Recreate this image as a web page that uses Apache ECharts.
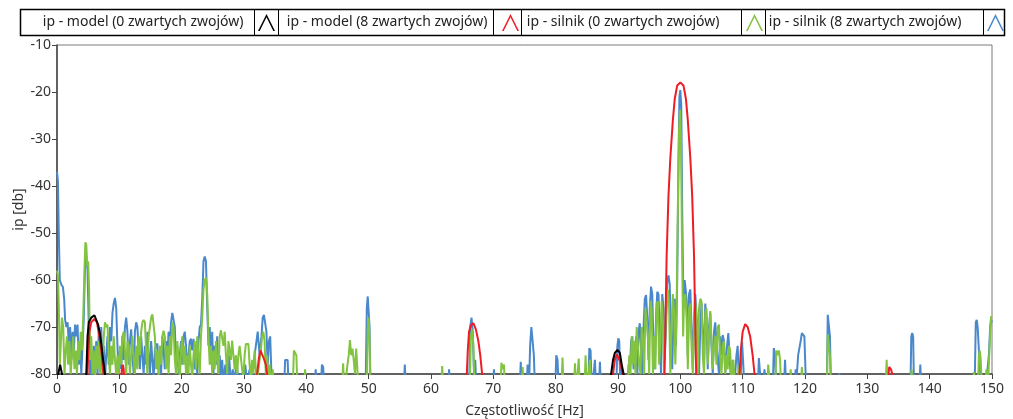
<!DOCTYPE html>
<html>
<head>
<meta charset="utf-8">
<script src="https://cdn.jsdelivr.net/npm/echarts@6/dist/echarts.min.js"></script>
<style>
html,body{margin:0;padding:0;background:#fff;}
#chart{width:1013px;height:419px;}
</style>
</head>
<body>
<div id="chart"></div>
<script>
var seriesNames = ['ip - model (0 zwartych zwojów)', 'ip - model (8 zwartych zwojów)', 'ip - silnik (0 zwartych zwojów)', 'ip - silnik (8 zwartych zwojów)'];
var xTicks = [0, 10, 20, 30, 40, 50, 60, 70, 80, 90, 100, 110, 120, 130, 140, 150];
var yTicks = [-80, -70, -60, -50, -40, -30, -20, -10];

var model0 = [[0,-84],[0.2,-80],[0.5,-78],[0.8,-80],[1.0,-84],[4.6,-84],[4.75,-78],[4.9,-72],[5.1,-69],[5.5,-68],[6.0,-67.5],[6.3,-67.8],[6.6,-69.5],[6.9,-71.5],[7.1,-73.5],[7.4,-77],[7.7,-80],[7.9,-84],
[88.6,-84],[88.9,-80],[89.2,-77],[89.5,-75.5],[89.9,-74.9],[90.3,-75.5],[90.6,-78],[90.9,-80],[91.1,-84],[150,-84]];

var model8 = [[0,-84],[4.8,-84],[5.0,-76],[5.2,-71],[5.5,-69],[6.0,-68.3],[6.4,-69],[6.8,-72],[7.1,-75],[7.4,-79],[7.6,-84],
[10.2,-84],[10.4,-79],[10.55,-78],[10.7,-79],[10.9,-84],
[31.9,-84],[32.1,-80],[32.4,-76.5],[32.65,-75],[32.9,-75.8],[33.2,-76.8],[33.5,-78],[33.7,-80],[33.9,-84],
[65.6,-84],[65.75,-80],[65.9,-75],[66.1,-71],[66.4,-69.6],[66.8,-69.2],[67.2,-70.5],[67.6,-73],[67.9,-76],[68.2,-80],[68.4,-84],
[89.0,-84],[89.2,-80],[89.5,-77],[89.8,-75.8],[90.1,-76],[90.4,-77.5],[90.7,-80],[90.9,-84],
[97.4,-84],[97.6,-70],[97.8,-55],[98.1,-42],[98.4,-34],[98.8,-26],[99.1,-21.5],[99.5,-18.6],[100,-18],[100.5,-18.6],[100.9,-21.5],[101.2,-26],[101.6,-34],[101.9,-42],[102.2,-55],[102.4,-70],[102.6,-84],
[109.3,-84],[109.5,-80],[109.7,-75],[110.0,-71],[110.4,-69.4],[110.8,-70],[111.2,-72],[111.6,-76],[111.9,-80],[112.1,-84],
[133.2,-84],[133.5,-78.5],[133.8,-79],[134.1,-80.5],[134.3,-84],[150,-84]];

var silnik0 = [[0,-58],[0.15,-59],[0.3,-66],[0.45,-78],[0.6,-74],[0.8,-68],[1.0,-70],[1.2,-80],[1.4,-75],[1.6,-72],[1.8,-78],[2.0,-73],[2.2,-80],[2.4,-76],[2.6,-72],[2.8,-79],[3.0,-75],[3.2,-80],[3.4,-73],[3.6,-77],[3.8,-71],[4.0,-75],[4.2,-68],[4.4,-58],[4.55,-52],[4.7,-52.5],[4.85,-57],[5.0,-56],[5.15,-62],[5.3,-77],[5.5,-72],[5.7,-80],[5.9,-75],[6.1,-81],[6.3,-74],[6.5,-79],[6.7,-73],[6.9,-80],[7.1,-75],[7.3,-80],[7.5,-72],[7.7,-69],[7.9,-70],[8.1,-69.5],[8.3,-76],[8.5,-80],[8.7,-74],[8.9,-78],[9.1,-72],[9.3,-77],[9.5,-80],[9.7,-76],[9.9,-80],
[10.1,-74],[10.3,-78],[10.5,-72],[10.7,-71],[10.9,-75],[11.1,-80],[11.3,-73],[11.5,-74],[11.7,-80],[11.9,-76],[12.1,-72],[12.3,-77],[12.5,-80],[12.7,-74],[12.9,-79],[13.1,-72],[13.3,-76],[13.5,-71],[13.7,-69],[13.9,-68.5],[14.1,-69],[14.3,-75],[14.5,-80],[14.7,-72],[14.9,-70],[15.1,-68],[15.3,-67.3],[15.5,-67.5],[15.7,-72],[15.9,-79],[16.1,-75],[16.3,-81],[16.5,-74],[16.7,-78],[16.9,-72],[17.1,-70.8],[17.3,-72],[17.5,-79],[17.7,-74],[17.9,-80],[18.1,-72],[18.3,-76],[18.5,-69],[18.7,-70],[18.9,-77],[19.1,-80],[19.3,-73],[19.5,-77],[19.7,-81],[19.9,-75],
[20.1,-72],[20.3,-78],[20.5,-74],[20.7,-80],[20.9,-76],[21.1,-80],[21.3,-74],[21.5,-78],[21.7,-81],[21.9,-76],[22.1,-73],[22.3,-79],[22.5,-72],[22.7,-76],[22.9,-80],[23.1,-72],[23.3,-68],[23.5,-62],[23.7,-60],[23.9,-59.5],[24.1,-63],[24.3,-72],[24.5,-78],[24.7,-74],[24.9,-80],[25.1,-75],[25.3,-79],[25.5,-73],[25.7,-77],[25.9,-80],[26.1,-72],[26.3,-70.7],[26.5,-71],[26.7,-74],[26.9,-71],[27.1,-76],[27.3,-80],[27.5,-73],[27.7,-72.9],[27.9,-77],[28.1,-72.9],[28.3,-73],[28.5,-79],[28.7,-76],[28.9,-80],[29.1,-76],[29.3,-74],[29.5,-74],[29.7,-79],[29.9,-81],
[30.1,-76],[30.3,-73.6],[30.5,-74],[30.7,-73.6],[30.9,-78],[31.1,-81],[31.3,-77],[31.5,-80],[31.7,-75],[31.9,-79],[32.1,-82],[32.4,-78],[32.7,-75],[32.9,-72],[33.1,-71],[33.3,-73],[33.5,-80],[33.7,-76],[33.9,-81],[34.1,-78],[34.3,-82],[34.6,-79],[34.9,-84],
[37.8,-84],[38.0,-75],[38.2,-74.9],[38.4,-76],[38.6,-84],[39.6,-84],[39.8,-79],[40.0,-84],
[45.7,-84],[45.9,-77.7],[46.1,-84],[46.4,-84],[46.6,-78],[46.8,-76],[47.0,-72.8],[47.2,-76],[47.4,-74.6],[47.6,-77],[47.8,-80],[48.0,-74.6],[48.2,-75],[48.4,-84],
[49.7,-84],[49.85,-70],[50.0,-68],[50.15,-73],[50.3,-84],[61.6,-84],[61.8,-78.3],[62.0,-84],
[66.2,-84],[66.4,-72],[66.6,-70.5],[66.8,-74],[67.0,-84],[71.1,-84],[71.3,-77.6],[71.5,-79],[71.7,-78],[71.9,-84],[74.5,-84],[74.7,-78.5],[74.9,-84],
[80.9,-84],[81.1,-76.5],[81.3,-84],[82.9,-84],[83.1,-77.7],[83.3,-84],[83.5,-84],[83.7,-76.7],[83.9,-84],[84.6,-84],[84.8,-76],[85.0,-84],[85.3,-84],[85.5,-77],[85.7,-84],
[91.6,-84],[91.8,-76],[92.0,-80],[92.2,-72],[92.4,-78],[92.6,-73],[92.8,-80],[93.0,-70],[93.2,-70],[93.4,-78],[93.6,-80],[93.8,-70],[94.0,-72],[94.2,-80],[94.4,-66],[94.6,-66],[94.8,-72],[95.0,-80],[95.2,-64.5],[95.4,-66],[95.6,-80],[95.8,-72],[96.0,-79],[96.2,-65],[96.4,-64.5],[96.6,-78],[96.8,-73],[97.0,-64.5],[97.2,-69],[97.4,-80],[97.6,-72],[97.8,-63],[98.0,-62],[98.2,-66],[98.4,-80],[98.6,-70],[98.8,-63],[99.0,-67],[99.2,-78],[99.4,-66],[99.6,-45],[99.8,-28],[99.95,-23.8],[100.1,-30],[100.25,-50],[100.45,-72],[100.6,-64],[100.8,-63],[101.0,-68],[101.2,-79],[101.4,-66],[101.6,-65],[101.8,-74],[102.0,-80],[102.2,-70],[102.4,-64.5],[102.6,-69],[102.8,-80],[103.0,-66],[103.2,-64],[103.4,-64.5],[103.6,-76],[103.8,-80],[104.0,-67],[104.2,-66],[104.4,-78],[104.6,-72],[104.8,-66.6],[105.0,-67],[105.2,-79],[105.4,-74],[105.6,-72],[105.8,-78],[106.0,-70],[106.2,-69.5],[106.4,-77],[106.6,-80],[106.8,-74],[107.0,-73],[107.2,-80],[107.4,-76],[107.6,-79],[107.8,-74],[108.0,-75],[108.2,-82],[108.5,-77],[108.8,-84],[109.2,-82],[109.5,-78],[109.8,-84],
[113.9,-84],[114.1,-78],[114.3,-78],[114.5,-84],[115.2,-84],[115.4,-75],[115.6,-76],[115.8,-75],[116.0,-77],[116.2,-84],[117.5,-84],[117.7,-79],[117.9,-84],[119.3,-84],[119.5,-78.5],[119.7,-84],
[123.5,-84],[123.65,-71.7],[123.85,-71.7],[124.0,-76],[124.2,-84],[132.9,-84],[133.1,-77],[133.3,-84],[136.9,-84],[137.1,-79],[137.3,-84],
[146.9,-84],[147.1,-79.6],[147.3,-84],[147.7,-84],[147.9,-76],[148.05,-75],[148.2,-77],[148.4,-84],[148.9,-84],[149.1,-79],[149.3,-84],[149.6,-84],[149.75,-70],[149.85,-67.7],[150,-68]];

var silnik8 = [[0,-37],[0.15,-39],[0.3,-51],[0.45,-60],[0.7,-61],[0.95,-61.5],[1.15,-64],[1.3,-68.5],[1.5,-70],[1.7,-69],[1.9,-74],[2.1,-70],[2.3,-77],[2.5,-71],[2.7,-75],[2.9,-69.5],[3.1,-72],[3.3,-69.5],[3.5,-78],[3.7,-73],[3.9,-80],[4.1,-74],[4.3,-68],[4.5,-57],[4.7,-55],[4.9,-58],[5.1,-70],[5.3,-80],[5.5,-76],[5.7,-81],[5.9,-74],[6.1,-78],[6.3,-73],[6.5,-80],[6.7,-71],[6.9,-76],[7.1,-70],[7.3,-79],[7.5,-74],[7.7,-81],[7.9,-76],[8.1,-72],[8.3,-78],[8.5,-70],[8.7,-73],[8.9,-67],[9.1,-65],[9.3,-63.8],[9.5,-66],[9.7,-74],[9.9,-80],
[10.1,-75],[10.3,-79],[10.5,-72],[10.7,-77],[10.9,-70],[11.1,-68],[11.3,-71],[11.5,-78],[11.7,-73],[11.9,-70.5],[12.1,-76],[12.3,-80],[12.5,-71],[12.7,-69],[12.9,-70],[13.1,-75],[13.3,-79],[13.5,-72],[13.7,-76],[13.9,-80],[14.1,-74],[14.3,-78],[14.5,-71],[14.7,-76],[14.9,-80],[15.1,-73],[15.3,-77],[15.5,-81],[15.7,-75],[15.9,-74],[16.1,-73.5],[16.3,-79],[16.5,-76],[16.7,-80],[16.9,-72],[17.1,-75],[17.3,-79],[17.5,-73],[17.7,-77],[17.9,-71],[18.1,-74],[18.3,-69],[18.5,-67],[18.7,-66.8],[18.9,-70],[19.1,-78],[19.3,-74],[19.5,-80],[19.7,-76],[19.9,-73],
[20.1,-78],[20.3,-72],[20.5,-71],[20.7,-74],[20.9,-80],[21.1,-76],[21.3,-73],[21.5,-72.5],[21.7,-75],[21.9,-72.5],[22.1,-79],[22.3,-76],[22.5,-80],[22.7,-73],[22.9,-70],[23.1,-69.5],[23.3,-64],[23.5,-56],[23.7,-55],[23.9,-56],[24.1,-66],[24.3,-74],[24.5,-70],[24.7,-76],[24.9,-71],[25.1,-80],[25.3,-74],[25.5,-78],[25.7,-72],[25.9,-80],[26.1,-76],[26.3,-81],[26.5,-77],[26.7,-82],[27.0,-78],[27.3,-82],[27.6,-76],[27.9,-82],[28.2,-79],[28.5,-82],[28.8,-77],[29.1,-82],[29.5,-80],[29.8,-82],
[30.2,-78],[30.5,-82],[30.9,-79],[31.2,-82],[31.6,-77],[31.9,-74],[32.2,-71],[32.5,-76],[32.8,-72],[33.0,-68],[33.2,-67.4],[33.4,-67.8],[33.6,-71],[33.8,-78],[34.0,-73],[34.2,-72],[34.4,-80],[34.6,-84],
[36.4,-84],[36.6,-77],[36.8,-76.6],[37.0,-77],[37.2,-84],[41.3,-84],[41.5,-79],[41.7,-84],[42.3,-84],[42.5,-78],[42.7,-78.5],[42.9,-84],
[49.5,-84],[49.7,-66],[49.85,-63.5],[50.0,-63.5],[50.15,-70],[50.3,-84],[55.6,-84],[55.8,-78],[56.0,-84],[62.7,-84],[62.9,-79],[63.1,-84],
[66.1,-84],[66.3,-70],[66.5,-68],[66.7,-71],[66.9,-80],[67.1,-77],[67.3,-84],[69.9,-84],[70.1,-79],[70.3,-84],
[74.2,-84],[74.4,-77.4],[74.6,-84],[75.3,-84],[75.5,-78],[75.7,-84],[75.9,-74],[76.1,-70],[76.3,-70],[76.5,-76],[76.7,-84],
[79.9,-84],[80.1,-76],[80.3,-77],[80.5,-84],[85.2,-84],[85.4,-74.5],[85.6,-75],[85.8,-84],[86.1,-84],[86.3,-77],[86.5,-84],[86.9,-84],[87.1,-77.4],[87.3,-84],
[89.7,-84],[89.9,-74],[90.05,-72.4],[90.2,-73],[90.4,-84],
[91.5,-84],[91.7,-78],[91.9,-80],[92.1,-73],[92.3,-72],[92.5,-79],[92.7,-76],[92.9,-72],[93.1,-80],[93.3,-71],[93.5,-69.2],[93.7,-75],[93.9,-80],[94.1,-70],[94.3,-64],[94.5,-63.2],[94.7,-68],[94.9,-77],[95.1,-66],[95.3,-61.4],[95.5,-63],[95.7,-74],[95.9,-79],[96.1,-68],[96.3,-62.5],[96.5,-63],[96.7,-72],[96.9,-80],[97.1,-63],[97.3,-66],[97.5,-77],[97.7,-70],[97.9,-60.4],[98.1,-59],[98.3,-61],[98.5,-72],[98.7,-79],[98.9,-68],[99.1,-64],[99.3,-74],[99.5,-60],[99.7,-35],[99.85,-21],[100.0,-19.6],[100.15,-23],[100.3,-45],[100.5,-66],[100.7,-60],[100.85,-59.6],[101.0,-64],[101.2,-76],[101.4,-63],[101.6,-62],[101.8,-70],[102.0,-79],[102.2,-68],[102.4,-63],[102.6,-63.2],[102.8,-72],[103.0,-80],[103.2,-70],[103.4,-65],[103.6,-71],[103.8,-78],[104.0,-65],[104.2,-68],[104.4,-79],[104.6,-70],[104.8,-67],[105.0,-74],[105.2,-80],[105.4,-71],[105.6,-69],[105.8,-69],[106.0,-77],[106.2,-80],[106.4,-72],[106.6,-76],[106.8,-71.7],[107.0,-73],[107.2,-80],[107.5,-74],[107.7,-71.3],[107.9,-76],[108.1,-81],[108.4,-77],[108.7,-82],[109.0,-76],[109.2,-74],[109.4,-82],[109.7,-80],[109.9,-73.1],[110.1,-78],[110.3,-84],
[112.4,-84],[112.6,-76.6],[112.8,-80],[113.1,-84],[113.5,-79],[113.8,-84],[114.8,-84],[115.0,-74.5],[115.2,-76],[115.4,-84],[116.6,-84],[116.8,-77],[117.0,-84],
[118.3,-84],[118.5,-79],[118.7,-80],[118.9,-76],[119.1,-76],[119.3,-73],[119.5,-71.3],[119.7,-71],[119.9,-72],[120.1,-80],[120.3,-84],
[123.5,-84],[123.65,-67.4],[123.85,-67.4],[124.0,-72],[124.2,-84],[125.3,-84],[125.5,-79.8],[125.7,-84],
[136.9,-84],[137.05,-72],[137.2,-71.3],[137.35,-72],[137.5,-84],[138.3,-84],[138.5,-78],[138.7,-84],
[147.2,-84],[147.4,-69],[147.55,-68.5],[147.7,-70],[147.9,-75],[148.1,-75],[148.3,-84],[148.9,-84],[149.2,-80],[149.5,-76],[149.7,-70],[149.85,-68.5],[150,-69]];

var colors = ['#000000', '#ee1d25', '#82c341', '#4a88cc'];
var caret = 'path://M0,18L9,0L18,18L16.2,18L9,3.4L1.8,18Z';
var FONT = 'Noto Sans';

function mkLegend(name, rightPos, padR) {
  return {
    data: [name], right: rightPos, top: 14, orient: 'horizontal', align: 'right',
    itemWidth: 18, itemHeight: 17, icon: caret, padding: 0, itemGap: 0,
    selectedMode: false,
    textStyle: { fontFamily: FONT, fontSize: 14, color: '#222', padding: [0, padR, 0, 0] }
  };
}

var chart = echarts.init(document.getElementById('chart'), null, { renderer: 'canvas' });
chart.setOption({
  animation: false,
  backgroundColor: '#ffffff',
  color: colors,
  grid: { left: 57, right: 21, top: 45, bottom: 45, show: true, borderColor: '#7a7a7a', borderWidth: 1, containLabel: false, outerBoundsMode: 'none' },
  legend: [
    mkLegend(seriesNames[0], 1013 - 275, 9),
    mkLegend(seriesNames[1], 1013 - 519, 9),
    mkLegend(seriesNames[2], 1013 - 763, 21),
    mkLegend(seriesNames[3], 1013 - 1004, 20)
  ],
  graphic: [
    { type: 'rect', shape: { x: 20.5, y: 9.5, width: 984, height: 26 }, style: { fill: 'none', stroke: '#000', lineWidth: 1.5 }, silent: true },
    { type: 'line', shape: { x1: 254.5, y1: 10, x2: 254.5, y2: 35 }, style: { stroke: '#000', lineWidth: 1 }, silent: true },
    { type: 'line', shape: { x1: 278.5, y1: 10, x2: 278.5, y2: 35 }, style: { stroke: '#000', lineWidth: 1 }, silent: true },
    { type: 'line', shape: { x1: 493.5, y1: 10, x2: 493.5, y2: 35 }, style: { stroke: '#000', lineWidth: 1 }, silent: true },
    { type: 'line', shape: { x1: 521.5, y1: 10, x2: 521.5, y2: 35 }, style: { stroke: '#000', lineWidth: 1 }, silent: true },
    { type: 'line', shape: { x1: 741.5, y1: 10, x2: 741.5, y2: 35 }, style: { stroke: '#000', lineWidth: 1 }, silent: true },
    { type: 'line', shape: { x1: 765.5, y1: 10, x2: 765.5, y2: 35 }, style: { stroke: '#000', lineWidth: 1 }, silent: true },
    { type: 'line', shape: { x1: 983.5, y1: 10, x2: 983.5, y2: 35 }, style: { stroke: '#000', lineWidth: 1 }, silent: true }
  ],
  xAxis: {
    type: 'value', min: xTicks[0], max: xTicks[xTicks.length - 1], interval: 10,
    name: 'Częstotliwość [Hz]', nameLocation: 'middle', nameGap: 30, nameMoveOverlap: false,
    nameTextStyle: { fontFamily: FONT, fontSize: 14, color: '#333' },
    axisLine: { show: true, onZero: false, lineStyle: { color: '#444', width: 1.5 } },
    axisTick: { show: true, length: 5, lineStyle: { color: '#444' } },
    axisLabel: { fontFamily: FONT, fontSize: 14, color: '#333', margin: 8 },
    splitLine: { show: false }
  },
  yAxis: {
    type: 'value', min: yTicks[0], max: yTicks[yTicks.length - 1], interval: 10,
    name: 'ip [db]', nameLocation: 'middle', nameGap: 31, nameRotate: 90, nameMoveOverlap: false,
    nameTextStyle: { fontFamily: FONT, fontSize: 14, color: '#333' },
    axisLine: { show: true, onZero: false, lineStyle: { color: '#444', width: 1.5 } },
    axisTick: { show: true, length: 5, lineStyle: { color: '#444' } },
    axisLabel: { fontFamily: FONT, fontSize: 14, color: '#333', margin: 6 },
    splitLine: { show: false }
  },
  series: [
    { name: seriesNames[3], type: 'line', data: silnik8, showSymbol: false, clip: true, z: 2, lineStyle: { width: 2, color: colors[3] }, itemStyle: { color: colors[3] } },
    { name: seriesNames[2], type: 'line', data: silnik0, showSymbol: false, clip: true, z: 3, lineStyle: { width: 2, color: colors[2] }, itemStyle: { color: colors[2] } },
    { name: seriesNames[1], type: 'line', data: model8, showSymbol: false, clip: true, z: 4, lineStyle: { width: 2, color: colors[1] }, itemStyle: { color: colors[1] } },
    { name: seriesNames[0], type: 'line', data: model0, showSymbol: false, clip: true, z: 5, lineStyle: { width: 2, color: colors[0] }, itemStyle: { color: colors[0] } }
  ]
});
</script>
</body>
</html>
